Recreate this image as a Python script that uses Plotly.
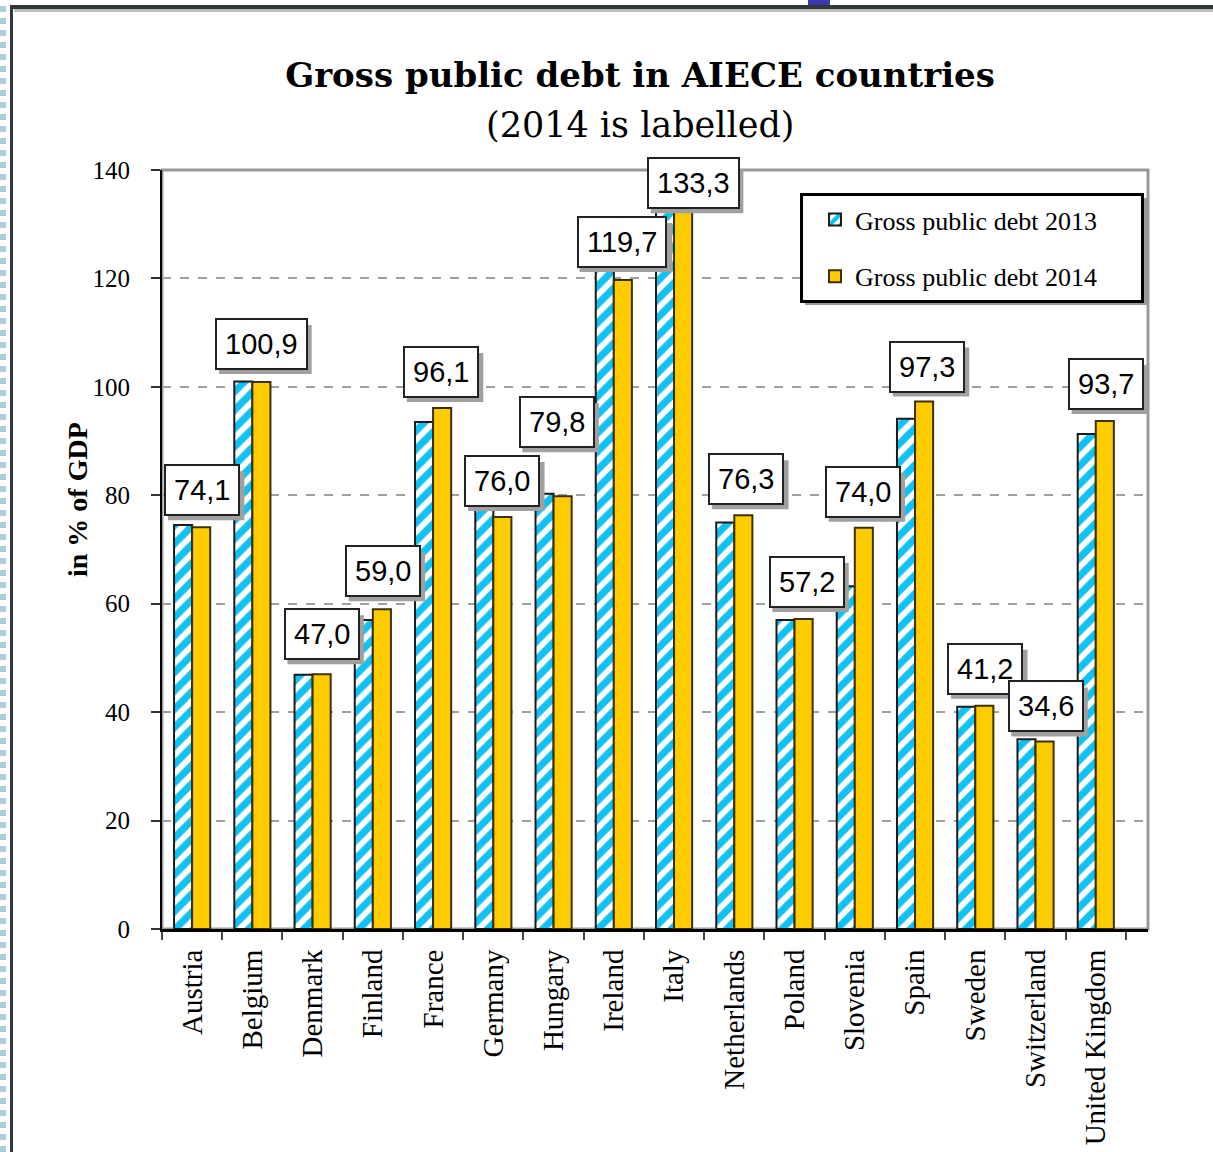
import plotly.graph_objects as go

# Gross public debt, % of GDP
countries = ["Austria", "Belgium", "Denmark", "Finland", "France", "Germany",
             "Hungary", "Ireland", "Italy", "Netherlands", "Poland", "Slovenia",
             "Spain", "Sweden", "Switzerland", "United Kingdom"]
debt_2013 = [74.5, 101.0, 46.9, 57.0, 93.5, 78.4, 80.3, 123.3, 132.6, 75.0,
             57.0, 63.2, 94.1, 41.0, 35.0, 91.3]
debt_2014 = [74.1, 100.9, 47.0, 59.0, 96.1, 76.0, 79.8, 119.7, 133.3, 76.3,
             57.2, 74.0, 97.3, 41.2, 34.6, 93.7]
y_ticks = [0, 20, 40, 60, 80, 100, 120, 140]

# label box placement in pixels: horizontal shift from category centre, gap above bar
label_dx = [10, 9, 9, 10, 8, 9, 3, 8, 19, 12, 12, 8, 12, 10, 10, 10]
label_dy = [11, 12, 14, 12, 10, 10, 48, 12, -3, 10, 11, 10, 9, 11, 9, 11]

W, H = 1213, 1152
ML, MR, MT, MB = 162, 65, 170, 223
PW, PH = W - ML - MR, H - MT - MB


def px(x):
    return (x - ML) / PW


def py(y):
    return (H - MB - y) / PH


SERIF = "Liberation Serif"
SANS = "Liberation Sans"
LABEL_SIZE = 29
LABEL_PAD = 8
NBSP = "\u00a0"

fig = go.Figure()
fig.add_trace(go.Bar(
    x=countries, y=debt_2013, name="Gross public debt 2013" + NBSP * 6,
    legendgroup="a",
    marker=dict(color="white",
                line=dict(color="#1a1a1a", width=2),
                pattern=dict(shape="/", fgcolor="#10C2F4", bgcolor="white",
                             fgopacity=1, size=13, solidity=0.55)),
))
fig.add_trace(go.Bar(
    x=countries, y=debt_2014, name="Gross public debt 2014" + NBSP * 6,
    legendgroup="b",
    marker=dict(color="#FFCC00", line=dict(color="#3d3000", width=2)),
))

shapes = []

# value labels for 2014, each with a grey drop shadow behind its box
for c, v, dx, dy in zip(countries, debt_2014, label_dx, label_dy):
    txt = f"{v:.1f}".replace(".", ",")
    n_digits = len(txt) - 1
    box_w = n_digits * 0.556 * LABEL_SIZE + 0.278 * LABEL_SIZE + 2 * LABEL_PAD + 4
    box_h = 49
    shapes.append(dict(type="rect", xref="x", yref="y",
                       xsizemode="pixel", ysizemode="pixel",
                       xanchor=c, yanchor=v,
                       x0=dx - box_w / 2 + 4, x1=dx + box_w / 2 + 4,
                       y0=dy - 4, y1=dy + box_h - 4,
                       fillcolor="#a0a0a0", line=dict(width=0), layer="above"))
    fig.add_annotation(text=txt, x=c, y=v, xref="x", yref="y", showarrow=False,
                       xanchor="center", yanchor="bottom", xshift=dx, yshift=dy,
                       borderpad=LABEL_PAD, borderwidth=2, bordercolor="#222222",
                       bgcolor="white",
                       font=dict(family=SANS, size=LABEL_SIZE, color="black"))

shapes += [
    # plot area frame (top/right in grey)
    dict(type="rect", xref="paper", yref="paper", x0=0, x1=1, y0=0, y1=1,
         line=dict(color="#999999", width=3), layer="below"),
    # legend shadow
    dict(type="rect", xref="paper", yref="paper",
         x0=px(805), x1=px(1148), y0=py(305), y1=py(198),
         fillcolor="#9a9a9a", line=dict(width=0), layer="above"),
    # outer window frame
    dict(type="rect", xref="paper", yref="paper",
         x0=px(10), x1=px(W), y0=py(9), y1=py(5),
         fillcolor="#2f3a3a", line=dict(width=0)),
    dict(type="rect", xref="paper", yref="paper",
         x0=px(14), x1=px(W), y0=py(12), y1=py(9),
         fillcolor="#bdbdbd", line=dict(width=0)),
    dict(type="rect", xref="paper", yref="paper",
         x0=px(10), x1=px(13), y0=py(H), y1=py(5),
         fillcolor="#2f3a3a", line=dict(width=0)),
    dict(type="line", xref="paper", yref="paper",
         x0=px(3), x1=px(3), y0=py(H), y1=py(0),
         line=dict(color="#a8d0d8", width=6, dash="dot")),
    dict(type="rect", xref="paper", yref="paper",
         x0=px(808), x1=px(830), y0=py(5), y1=py(0),
         fillcolor="#3a3aa8", line=dict(width=0)),
]

# subtitle under the main title
fig.add_annotation(text="(2014 is labelled)", xref="paper", yref="paper",
                   x=px(640), y=py(125), showarrow=False,
                   xanchor="center", yanchor="middle",
                   font=dict(family="DejaVu Serif", size=35, color="black"))

# y-axis title, placed a little above the plot's vertical centre
fig.add_annotation(text="<b>in % of GDP</b>", xref="paper", yref="paper",
                   x=px(77), y=py(500), textangle=-90, showarrow=False,
                   xanchor="center", yanchor="middle",
                   font=dict(family=SERIF, size=28, color="black"))

fig.update_layout(
    width=W, height=H,
    margin=dict(l=ML, r=MR, t=MT, b=MB, autoexpand=False),
    paper_bgcolor="white", plot_bgcolor="white",
    barmode="group", bargap=0.4, bargroupgap=0,
    title=dict(text="<b>Gross public debt in AIECE countries</b>",
               x=640 / W, xanchor="center", y=1 - 75 / H, yanchor="middle",
               font=dict(family="DejaVu Serif", size=34, color="black")),
    legend=dict(x=px(800), y=py(193), xanchor="left", yanchor="top",
                bgcolor="white", bordercolor="black", borderwidth=3,
                font=dict(family=SERIF, size=26, color="black"),
                indentation=12,
                traceorder="grouped", tracegroupgap=20),
    shapes=shapes,
    xaxis=dict(showline=True, linecolor="black", linewidth=3,
               ticks="outside", tickson="boundaries", ticklen=8,
               tickcolor="#444444", tickwidth=2, tickangle=-90,
               ticklabelstandoff=6, automargin=False,
               tickfont=dict(family=SERIF, size=29, color="black"),
               showgrid=False),
    yaxis=dict(range=[0, 140], tickvals=y_ticks,
               showline=True, linecolor="black", linewidth=2,
               ticks="outside", ticklen=9, tickcolor="#333333", tickwidth=2,
               ticklabelstandoff=16, automargin=False,
               tickfont=dict(family=SERIF, size=25, color="black"),
               showgrid=True, gridcolor="#a0a0a0", gridwidth=2, griddash="dash",
               zeroline=False),
)

fig.write_html("out.html")
